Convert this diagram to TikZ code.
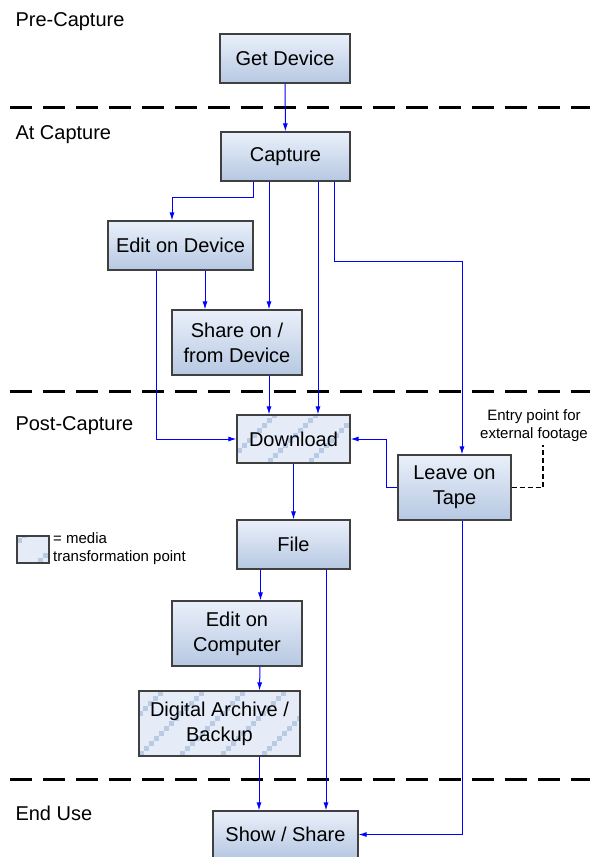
\documentclass[tikz,border=0pt]{standalone}
\usepackage{fontspec}
\setmainfont{Liberation Sans}
\usetikzlibrary{arrows.meta}
\definecolor{boxtop}{HTML}{EAF0FA}
\definecolor{boxbottom}{HTML}{B6C8E2}
\definecolor{boxline}{HTML}{404040}
\definecolor{mediafill}{HTML}{E6ECF7}
\definecolor{stairblue}{HTML}{B8CAE4}
\definecolor{flowblue}{HTML}{0000FF}

\begin{document}
\begin{tikzpicture}[x=1pt, y=-1pt,
	boxbase/.style={draw=boxline, line width=1.2pt, align=center, inner sep=0pt,
		font=\fontsize{20}{25}\selectfont},
	stepbox/.style={boxbase, top color=boxtop, bottom color=boxbottom},
	mediabox/.style={boxbase, fill=mediafill, path picture={
		\foreach \n in {-2,...,4}
			\foreach \k in {0,...,14}
				\fill[stairblue] ([shift={(#1+41*\n+5*\k,-5*\k)}]path picture bounding box.south west) rectangle ++(5,-5);
	}},
	mediabox/.default=0,
	phase/.style={anchor=west, font=\fontsize{20}{25}\selectfont},
	note/.style={align=center, font=\fontsize{15}{18}\selectfont, inner sep=0pt},
	flow/.style={draw=flowblue, line width=1pt, -{Latex[length=8pt,width=5pt]}},
	sep/.style={line width=3pt, dash pattern=on 22pt off 11pt}]
\useasboundingbox (0,0) rectangle (590,857);

% phases
\node[phase] (pre) at (12,22) {Pre-Capture};
\node[phase] (at) at (12,135) {At Capture};
\node[phase] (post) at (12,426) {Post-Capture};
\node[phase] (end) at (12,813) {End Use};
\draw[sep] (10,107) -- (590,107);
\draw[sep] (10,391) -- (590,391);
\draw[sep] (10,779) -- (590,779);

% steps
\node[stepbox, minimum width=130, minimum height=49] (getdev) at (285,58.5) {Get Device};
\node[stepbox, minimum width=129, minimum height=49] (capture) at (285.5,156.5) {Capture};
\node[stepbox, minimum width=145, minimum height=49] (editdev) at (180.5,245.5) {Edit on Device};
\node[stepbox, minimum width=130, minimum height=65] (sharedev) at (237,342.5) {Share on /\\from Device};
\node[mediabox=-10, minimum width=113, minimum height=48] (download) at (293.5,439) {Download};
\node[stepbox, minimum width=113, minimum height=65] (tape) at (454.5,487.5) {Leave on\\Tape};
\node[stepbox, minimum width=113, minimum height=49] (file) at (293.5,544.5) {File};
\node[stepbox, minimum width=130, minimum height=65] (editcomp) at (237,633.5) {Edit on\\Computer};
\node[mediabox=0, minimum width=161, minimum height=65] (archive) at (219.5,723.5) {Digital Archive /\\Backup};
\node[stepbox, minimum width=145, minimum height=47] (show) at (285.5,834.5) {Show / Share};

% legend and note
\node[mediabox=-20, minimum width=32, minimum height=27] (legbox) at (33,549.5) {};
\node[note, align=left, anchor=west] (legtext) at (53,549) {= media\\transformation point};
\node[note] (entrytext) at (534,426) {Entry point for\\external footage};
\coordinate (entry) at (543,445);

% flows
\draw[flow] (getdev) -- (capture);
\draw[flow] ([xshift=-32.5pt]capture.south) -- ++(0,16) -| ([xshift=-8.5pt]editdev.north);
\draw[flow] ([xshift=-16.5pt]capture.south) -- ([xshift=32pt]sharedev.north);
\draw[flow] ([xshift=32.5pt]capture.south) -- ([xshift=24.5pt]download.north);
\draw[flow] ([xshift=48.5pt]capture.south) -- ++(0,80) -| ([xshift=7.5pt]tape.north);
\draw[flow] ([xshift=24.5pt]editdev.south) -- ([xshift=-32pt]sharedev.north);
\draw[flow] ([xshift=-24.5pt]editdev.south) |- (download.west);
\draw[flow] ([xshift=32pt]sharedev.south) -- ([xshift=-24.5pt]download.north);
\draw[flow] (tape.west) -- ++(-11,0) |- (download.east);
\draw[flow] (download) -- (file);
\draw[flow] ([xshift=-33pt]file.south) -- ([xshift=23.5pt]editcomp.north);
\draw[flow] ([xshift=32.5pt]file.south) -- ([xshift=40.5pt]show.north);
\draw[flow] ([xshift=23pt]editcomp.south) -- ([xshift=40pt]archive.north);
\draw[flow] ([xshift=39.5pt]archive.south) -- ([xshift=-26.5pt]show.north);
\draw[flow] ([xshift=7.5pt]tape.south) |- (show.east);
\draw[line width=1.5pt, dash pattern=on 5pt off 3pt] (tape.east) -| (entry);
\end{tikzpicture}
\end{document}
